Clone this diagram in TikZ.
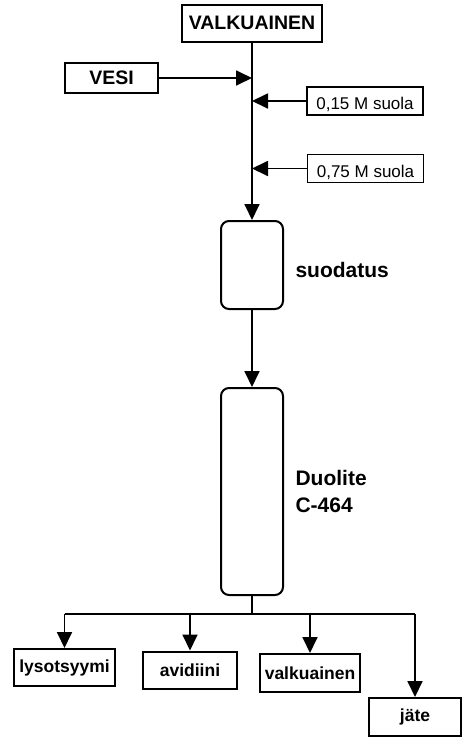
\documentclass[tikz,border=0pt]{standalone}
\usepackage{fontspec}
\setmainfont{Liberation Sans}
\usetikzlibrary{positioning}
\usetikzlibrary{arrows.meta}
\tikzset{
flow_box/.style={rectangle, draw, line width=2pt, inner sep=0pt, font=\bfseries\fontsize{19.5}{22}\selectfont},
product_box/.style={rectangle, draw, line width=2pt, inner sep=0pt, minimum height=37pt, font=\bfseries\fontsize{17.5}{20}\selectfont},
salt_box/.style={rectangle, draw, line width=1.4pt, inner sep=0pt, minimum width=116pt, minimum height=28pt, text height=20pt, text depth=3pt, font=\fontsize{17}{19}\selectfont},
column/.style={rectangle, rounded corners=8pt, draw, line width=2pt, minimum width=62pt},
label_text/.style={font=\bfseries\fontsize{21}{27}\selectfont, align=left},
flow/.style={line width=1.8pt, -{Triangle[length=16pt,width=15pt]}},
pipe/.style={line width=1.8pt}
}
\begin{document}
\begin{tikzpicture}[x=1pt, y=-1pt]
    \useasboundingbox (0,0) rectangle (461,737);
    \node[flow_box, minimum width=140pt, minimum height=37pt] (valkuainen) at (252,23) {VALKUAINEN};
    \node[flow_box, minimum width=93pt, minimum height=30pt] (vesi) at (111.5,78) {VESI};
    \node[salt_box] (suola_1) at (365,101) {0,15 M suola};
    \node[salt_box] (suola_2) at (365.5,168.5) {0,75 M suola};

    \node[column, minimum height=88pt] (suodatus) at (252,265) {};
    \node[label_text] (suodatus_label) [right=8pt of suodatus, yshift=-5pt] {suodatus};
    \node[column, minimum height=207pt] (duolite) [below=77pt of suodatus] {};
    \node[label_text] (duolite_label) [right=8pt of duolite] {Duolite\\C-464};

    % syotot paalinjaan
    \coordinate (join_vesi) at (valkuainen.south |- vesi.east);
    \coordinate (join_1) at (valkuainen.south |- suola_1.west);
    \coordinate (join_2) at (valkuainen.south |- suola_2.west);
    \draw[flow] (valkuainen.south) -- (suodatus.north);
    \draw[flow] (vesi) -- (join_vesi);
    \draw[flow] (suola_1) -- (join_1);
    \draw[flow] (suola_2) -- (join_2);
    \draw[flow] (suodatus) -- (duolite);

    % jakeet
    \node[product_box, minimum width=101pt] (lysotsyymi) at (64.5,667.5) {lysotsyymi};
    \node[product_box, minimum width=94pt] (avidiini) at (190,670) {avidiini};
    \node[product_box, minimum width=100pt, minimum height=38pt] (valkuainen_out) at (310,673) {valkuainen};
    \node[product_box, minimum width=92pt, minimum height=38pt] (jate) at (415,717) {jäte};
    \coordinate (split) at (252,614);
    \draw[pipe] (duolite.south) -- (split);
    \draw[pipe] (lysotsyymi.north |- split) -- (jate.north |- split);
    \draw[flow] (lysotsyymi.north |- split) -- (lysotsyymi.north);
    \draw[flow] (avidiini.north |- split) -- (avidiini.north);
    \draw[flow] (valkuainen_out.north |- split) -- (valkuainen_out.north);
    \draw[flow] (jate.north |- split) -- (jate.north);
\end{tikzpicture}
\end{document}
